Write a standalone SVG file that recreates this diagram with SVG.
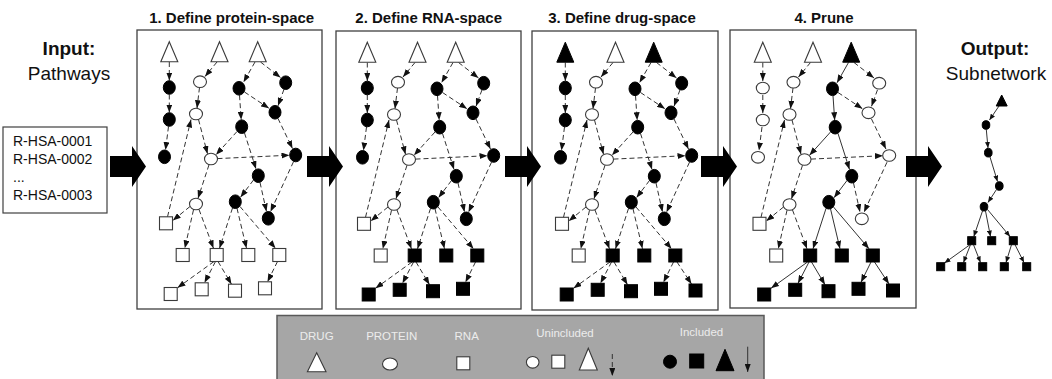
<svg xmlns="http://www.w3.org/2000/svg" width="1052" height="379" viewBox="0 0 1052 379">
<style>
.ttl{font-family:"Liberation Sans",Arial,sans-serif;font-weight:bold;font-size:15px;fill:#111;text-anchor:middle}
.big{font-family:"Liberation Sans",Arial,sans-serif;font-size:19px;fill:#111;text-anchor:middle}
.bigb{font-weight:bold}
.lst{font-family:"Liberation Sans",Arial,sans-serif;font-size:14px;fill:#111}
.lg{font-family:"Liberation Sans",Arial,sans-serif;font-size:11.5px;fill:#ececec;text-anchor:middle}
.box{fill:#fff;stroke:#404040;stroke-width:1.3}
.o{fill:#fff;stroke:#3a3a3a;stroke-width:1.1}
.f{fill:#000;stroke:#000;stroke-width:1}
.d{fill:none;stroke:#333;stroke-width:1;stroke-dasharray:5 3;marker-end:url(#ah)}
.s{fill:none;stroke:#333;stroke-width:1;marker-end:url(#ah)}
.sm{fill:none;stroke:#333;stroke-width:1;marker-end:url(#ahs)}
.arr{fill:#000}
</style>
<defs>
<marker id="ah" viewBox="0 0 8 6" refX="8" refY="3" markerWidth="8" markerHeight="6" markerUnits="userSpaceOnUse" orient="auto"><path d="M0,0 L8,3 L0,6 Z" fill="#111"/></marker>
<marker id="ahs" viewBox="0 0 6 5" refX="6" refY="2.5" markerWidth="6" markerHeight="5" markerUnits="userSpaceOnUse" orient="auto"><path d="M0,0 L6,2.5 L0,5 Z" fill="#111"/></marker>
<path id="to" class="o" d="M0,-10.3 L8.5,9.7 L-8.5,9.7 Z"/>
<path id="tf" class="f" d="M0,-10.3 L8.5,9.7 L-8.5,9.7 Z"/>
<ellipse id="eo" class="o" rx="6.5" ry="5.8"/>
<ellipse id="ef" class="f" rx="6" ry="6.8"/>
<rect id="so" class="o" x="-6.5" y="-6.5" width="13" height="13"/>
<rect id="sf" class="f" x="-6.5" y="-6.5" width="13" height="13"/>
<path id="bigarrow" class="arr" d="M0,156 H22 V146 L36,166.5 L22,187 V177 H0 Z"/>
</defs>

<!-- titles -->
<text class="big bigb" x="69" y="55">Input:</text>
<text class="big" x="69" y="80">Pathways</text>
<text class="big bigb" x="995" y="55">Output:</text>
<text class="big" x="996" y="80">Subnetwork</text>
<text class="ttl" x="231.7" y="23">1. Define protein-space</text>
<text class="ttl" x="428.7" y="23">2. Define RNA-space</text>
<text class="ttl" x="622" y="23">3. Define drug-space</text>
<text class="ttl" x="824" y="23">4. Prune</text>

<!-- input box -->
<g id="input">
<rect x="3" y="127" width="104" height="86" fill="#fff" stroke="#404040" stroke-width="1.2"/>
<text class="lst" x="13" y="146">R-HSA-0001</text>
<text class="lst" x="13" y="164">R-HSA-0002</text>
<text class="lst" x="13" y="182">...</text>
<text class="lst" x="13" y="200">R-HSA-0003</text>
</g>

<!-- panel frames -->
<g id="panel1"><rect class="box" x="137" y="30" width="185" height="279"/></g>
<g id="panel2"><rect class="box" x="336" y="31" width="185" height="278"/></g>
<g id="panel3"><rect class="box" x="532" y="31" width="186" height="279"/></g>
<g id="panel4"><rect class="box" x="730" y="30" width="186" height="278"/></g>

<!-- connectors -->
<g id="connectors">
<g id="c-p1">
<path class="d" d="M169.3,62 L169.3,80.5"/>
<path class="d" d="M169.3,94.5 L169.3,112.5"/>
<path class="d" d="M168.5,126.5 L165.5,150"/>
<path class="d" d="M217,62 L205,76.5"/>
<path class="d" d="M199.5,87.5 L197,108.2"/>
<path class="d" d="M198.5,119.5 L207.5,153.8"/>
<path class="d" d="M209,164.8 L198,198.3"/>
<path class="d" d="M190,206.5 L172.8,220.5"/>
<path class="d" d="M167.5,216.8 L191,119.5"/>
<path class="d" d="M193.5,209.8 L184.8,248.3"/>
<path class="d" d="M199,209.5 L213.5,248.3"/>
<path class="d" d="M232.5,208 L219.5,248.3"/>
<path class="d" d="M237,208.3 L246.5,248.3"/>
<path class="d" d="M240,206.5 L275.5,248.3"/>
<path class="d" d="M214,261.5 L177.5,287.8"/>
<path class="d" d="M215.5,261.5 L204.5,282.8"/>
<path class="d" d="M218,261.5 L231.5,284.2"/>
<path class="d" d="M277.5,261.5 L267.5,281.8"/>
<path class="d" d="M255,62 L243.5,82.3"/>
<path class="d" d="M260.5,62 L280.5,77.5"/>
<path class="d" d="M244.5,92 L269,108.3"/>
<path class="d" d="M284,89.3 L278,105.8"/>
<path class="d" d="M239.5,95.2 L241.2,119.8"/>
<path class="d" d="M237,131.5 L216,154.8"/>
<path class="d" d="M244.5,133 L256,168.9"/>
<path class="d" d="M278,118.5 L292.5,148.6"/>
<path class="d" d="M217.5,158.6 L289.5,155.2"/>
<path class="d" d="M293.5,161.7 L270.5,211.7"/>
<path class="d" d="M253.5,180 L240.5,197.2"/>
<path class="d" d="M260,182.5 L266.5,211.5"/>
</g>
<g id="c-p2" transform="translate(198,0.5)">
<path class="d" d="M169.3,62 L169.3,80.5"/>
<path class="d" d="M169.3,94.5 L169.3,112.5"/>
<path class="d" d="M168.5,126.5 L165.5,150"/>
<path class="d" d="M217,62 L205,76.5"/>
<path class="d" d="M199.5,87.5 L197,108.2"/>
<path class="d" d="M198.5,119.5 L207.5,153.8"/>
<path class="d" d="M209,164.8 L198,198.3"/>
<path class="d" d="M190,206.5 L172.8,220.5"/>
<path class="d" d="M167.5,216.8 L191,119.5"/>
<path class="d" d="M193.5,209.8 L184.8,248.3"/>
<path class="d" d="M199,209.5 L213.5,248.3"/>
<path class="d" d="M232.5,208 L219.5,248.3"/>
<path class="d" d="M237,208.3 L246.5,248.3"/>
<path class="d" d="M240,206.5 L275.5,248.3"/>
<path class="d" d="M214,261.5 L177.5,287.8"/>
<path class="d" d="M215.5,261.5 L204.5,282.8"/>
<path class="d" d="M218,261.5 L231.5,284.2"/>
<path class="d" d="M277.5,261.5 L267.5,281.8"/>
<path class="d" d="M255,62 L243.5,82.3"/>
<path class="d" d="M260.5,62 L280.5,77.5"/>
<path class="d" d="M244.5,92 L269,108.3"/>
<path class="d" d="M284,89.3 L278,105.8"/>
<path class="d" d="M239.5,95.2 L241.2,119.8"/>
<path class="d" d="M237,131.5 L216,154.8"/>
<path class="d" d="M244.5,133 L256,168.9"/>
<path class="d" d="M278,118.5 L292.5,148.6"/>
<path class="d" d="M217.5,158.6 L289.5,155.2"/>
<path class="d" d="M293.5,161.7 L270.5,211.7"/>
<path class="d" d="M253.5,180 L240.5,197.2"/>
<path class="d" d="M260,182.5 L266.5,211.5"/>
</g>
<g id="c-p3" transform="translate(396,0.5)">
<path class="d" d="M169.3,62 L169.3,80.5"/>
<path class="d" d="M169.3,94.5 L169.3,112.5"/>
<path class="d" d="M168.5,126.5 L165.5,150"/>
<path class="d" d="M217,62 L205,76.5"/>
<path class="d" d="M199.5,87.5 L197,108.2"/>
<path class="d" d="M198.5,119.5 L207.5,153.8"/>
<path class="d" d="M209,164.8 L198,198.3"/>
<path class="d" d="M190,206.5 L172.8,220.5"/>
<path class="d" d="M167.5,216.8 L191,119.5"/>
<path class="d" d="M193.5,209.8 L184.8,248.3"/>
<path class="d" d="M199,209.5 L213.5,248.3"/>
<path class="d" d="M232.5,208 L219.5,248.3"/>
<path class="d" d="M237,208.3 L246.5,248.3"/>
<path class="d" d="M240,206.5 L275.5,248.3"/>
<path class="d" d="M214,261.5 L177.5,287.8"/>
<path class="d" d="M215.5,261.5 L204.5,282.8"/>
<path class="d" d="M218,261.5 L231.5,284.2"/>
<path class="d" d="M277.5,261.5 L267.5,281.8"/>
<path class="d" d="M281,261.5 L295.5,283.5"/>
<path class="d" d="M255,62 L243.5,82.3"/>
<path class="d" d="M260.5,62 L280.5,77.5"/>
<path class="d" d="M244.5,92 L269,108.3"/>
<path class="d" d="M284,89.3 L278,105.8"/>
<path class="d" d="M239.5,95.2 L241.2,119.8"/>
<path class="d" d="M237,131.5 L216,154.8"/>
<path class="d" d="M244.5,133 L256,168.9"/>
<path class="d" d="M278,118.5 L292.5,148.6"/>
<path class="d" d="M217.5,158.6 L289.5,155.2"/>
<path class="d" d="M293.5,161.7 L270.5,211.7"/>
<path class="d" d="M253.5,180 L240.5,197.2"/>
<path class="d" d="M260,182.5 L266.5,211.5"/>
</g>
<g id="c-p4" transform="translate(593.5,0.5)">
<path class="d" d="M169.3,62 L169.3,80.5"/>
<path class="d" d="M169.3,94.5 L169.3,112.5"/>
<path class="d" d="M168.5,126.5 L165.5,150"/>
<path class="d" d="M217,62 L205,76.5"/>
<path class="d" d="M199.5,87.5 L197,108.2"/>
<path class="d" d="M198.5,119.5 L207.5,153.8"/>
<path class="d" d="M209,164.8 L198,198.3"/>
<path class="d" d="M190,206.5 L172.8,220.5"/>
<path class="d" d="M167.5,216.8 L191,119.5"/>
<path class="d" d="M193.5,209.8 L184.8,248.3"/>
<path class="d" d="M199,209.5 L213.5,248.3"/>
<path class="s" d="M232.5,208 L219.5,248.3"/>
<path class="s" d="M237,208.3 L246.5,248.3"/>
<path class="s" d="M240,206.5 L275.5,248.3"/>
<path class="s" d="M214,261.5 L177.5,287.8"/>
<path class="s" d="M215.5,261.5 L204.5,282.8"/>
<path class="s" d="M218,261.5 L231.5,284.2"/>
<path class="s" d="M277.5,261.5 L267.5,281.8"/>
<path class="s" d="M281,261.5 L295.5,283.5"/>
<path class="s" d="M255,62 L243.5,82.3"/>
<path class="d" d="M260.5,62 L280.5,77.5"/>
<path class="d" d="M244.5,92 L269,108.3"/>
<path class="d" d="M284,89.3 L278,105.8"/>
<path class="s" d="M239.5,95.2 L241.2,119.8"/>
<path class="s" d="M237,131.5 L216,154.8"/>
<path class="s" d="M244.5,133 L256,168.9"/>
<path class="d" d="M278,118.5 L292.5,148.6"/>
<path class="d" d="M217.5,158.6 L289.5,155.2"/>
<path class="d" d="M293.5,161.7 L270.5,211.7"/>
<path class="s" d="M253.5,180 L240.5,197.2"/>
<path class="d" d="M260,182.5 L266.5,211.5"/>
</g>
<g id="c-out">
<path class="sm" d="M999,106 L989.5,120"/>
<path class="sm" d="M986.3,129.5 L988,148"/>
<path class="sm" d="M990,157 L997.5,181.5"/>
<path class="sm" d="M996.5,189.5 L988,202.5"/>
<path class="sm" d="M982.5,211 L973.8,236.5"/>
<path class="sm" d="M985.5,211 L990.5,236.5"/>
<path class="sm" d="M987.5,209.5 L1010,236.5"/>
<path class="sm" d="M970,244.7 L944.5,263"/>
<path class="sm" d="M970.5,244.7 L963.5,262.5"/>
<path class="sm" d="M973.5,244.7 L980.5,262.5"/>
<path class="sm" d="M1011.5,244.7 L1006,262.5"/>
<path class="sm" d="M1015,244.7 L1024,262.5"/>
</g>
</g>

<!-- panel 1 nodes -->
<g id="p1-nodes">
<g id="p1-t1"><use href="#to" x="169.3" y="52"/></g>
<g id="p1-t2"><use href="#to" x="219.5" y="52"/></g>
<g id="p1-t3"><use href="#to" x="257.7" y="52"/></g>
<g id="p1-a1"><use href="#ef" x="169.3" y="87.5"/></g>
<g id="p1-a2"><use href="#ef" x="169.3" y="119.5"/></g>
<g id="p1-a3"><use href="#ef" x="164.5" y="156.8"/></g>
<g id="p1-b1"><use href="#eo" x="200" y="81.7"/></g>
<g id="p1-b2"><use href="#eo" x="196" y="114"/></g>
<g id="p1-b3"><use href="#eo" x="211" y="159"/></g>
<g id="p1-b4"><use href="#eo" x="196" y="204"/></g>
<g id="p1-c1"><use href="#ef" x="239" y="88.3"/></g>
<g id="p1-c2"><use href="#ef" x="285.7" y="82.7"/></g>
<g id="p1-c3"><use href="#ef" x="275" y="112.3"/></g>
<g id="p1-c4"><use href="#ef" x="241.7" y="126.7"/></g>
<g id="p1-c5"><use href="#ef" x="295.7" y="155"/></g>
<g id="p1-c6"><use href="#ef" x="258.3" y="175.7"/></g>
<g id="p1-c7"><use href="#ef" x="235.3" y="201.7"/></g>
<g id="p1-c8"><use href="#ef" x="268.3" y="218.3"/></g>
<g id="p1-s1"><use href="#so" x="166" y="223.3"/></g>
<g id="p1-s2"><use href="#so" x="182.7" y="255"/></g>
<g id="p1-s3"><use href="#so" x="216.7" y="255"/></g>
<g id="p1-s4"><use href="#so" x="248.3" y="255"/></g>
<g id="p1-s5"><use href="#so" x="279.3" y="255"/></g>
<g id="p1-s6"><use href="#so" x="170.7" y="294"/></g>
<g id="p1-s7"><use href="#so" x="201.7" y="289.3"/></g>
<g id="p1-s8"><use href="#so" x="235" y="290.7"/></g>
<g id="p1-s9"><use href="#so" x="265" y="288.3"/></g>
</g>

<!-- panel 2 nodes -->
<g id="p2-nodes" transform="translate(198,0.5)">
<g id="p2-t1"><use href="#to" x="169.3" y="52"/></g>
<g id="p2-t2"><use href="#to" x="219.5" y="52"/></g>
<g id="p2-t3"><use href="#to" x="257.7" y="52"/></g>
<g id="p2-a1"><use href="#ef" x="169.3" y="87.5"/></g>
<g id="p2-a2"><use href="#ef" x="169.3" y="119.5"/></g>
<g id="p2-a3"><use href="#ef" x="164.5" y="156.8"/></g>
<g id="p2-b1"><use href="#eo" x="200" y="81.7"/></g>
<g id="p2-b2"><use href="#eo" x="196" y="114"/></g>
<g id="p2-b3"><use href="#eo" x="211" y="159"/></g>
<g id="p2-b4"><use href="#eo" x="196" y="204"/></g>
<g id="p2-c1"><use href="#ef" x="239" y="88.3"/></g>
<g id="p2-c2"><use href="#ef" x="285.7" y="82.7"/></g>
<g id="p2-c3"><use href="#ef" x="275" y="112.3"/></g>
<g id="p2-c4"><use href="#ef" x="241.7" y="126.7"/></g>
<g id="p2-c5"><use href="#ef" x="295.7" y="155"/></g>
<g id="p2-c6"><use href="#ef" x="258.3" y="175.7"/></g>
<g id="p2-c7"><use href="#ef" x="235.3" y="201.7"/></g>
<g id="p2-c8"><use href="#ef" x="268.3" y="218.3"/></g>
<g id="p2-s1"><use href="#so" x="166" y="223.3"/></g>
<g id="p2-s2"><use href="#so" x="182.7" y="255"/></g>
<g id="p2-s3"><use href="#sf" x="216.7" y="255"/></g>
<g id="p2-s4"><use href="#sf" x="248.3" y="255"/></g>
<g id="p2-s5"><use href="#sf" x="279.3" y="255"/></g>
<g id="p2-s6"><use href="#sf" x="170.7" y="294"/></g>
<g id="p2-s7"><use href="#sf" x="201.7" y="289.3"/></g>
<g id="p2-s8"><use href="#sf" x="235" y="290.7"/></g>
<g id="p2-s9"><use href="#sf" x="265" y="288.3"/></g>
</g>

<!-- panel 3 nodes -->
<g id="p3-nodes" transform="translate(396,0.5)">
<g id="p3-t1"><use href="#tf" x="169.3" y="52"/></g>
<g id="p3-t2"><use href="#to" x="219.5" y="52"/></g>
<g id="p3-t3"><use href="#tf" x="257.7" y="52"/></g>
<g id="p3-a1"><use href="#ef" x="169.3" y="87.5"/></g>
<g id="p3-a2"><use href="#ef" x="169.3" y="119.5"/></g>
<g id="p3-a3"><use href="#ef" x="164.5" y="156.8"/></g>
<g id="p3-b1"><use href="#eo" x="200" y="81.7"/></g>
<g id="p3-b2"><use href="#eo" x="196" y="114"/></g>
<g id="p3-b3"><use href="#eo" x="211" y="159"/></g>
<g id="p3-b4"><use href="#eo" x="196" y="204"/></g>
<g id="p3-c1"><use href="#ef" x="239" y="88.3"/></g>
<g id="p3-c2"><use href="#ef" x="285.7" y="82.7"/></g>
<g id="p3-c3"><use href="#ef" x="275" y="112.3"/></g>
<g id="p3-c4"><use href="#ef" x="241.7" y="126.7"/></g>
<g id="p3-c5"><use href="#ef" x="295.7" y="155"/></g>
<g id="p3-c6"><use href="#ef" x="258.3" y="175.7"/></g>
<g id="p3-c7"><use href="#ef" x="235.3" y="201.7"/></g>
<g id="p3-c8"><use href="#ef" x="268.3" y="218.3"/></g>
<g id="p3-s1"><use href="#so" x="166" y="223.3"/></g>
<g id="p3-s2"><use href="#so" x="182.7" y="255"/></g>
<g id="p3-s3"><use href="#sf" x="216.7" y="255"/></g>
<g id="p3-s4"><use href="#sf" x="248.3" y="255"/></g>
<g id="p3-s5"><use href="#sf" x="279.3" y="255"/></g>
<g id="p3-s6"><use href="#sf" x="170.7" y="294"/></g>
<g id="p3-s7"><use href="#sf" x="201.7" y="289.3"/></g>
<g id="p3-s8"><use href="#sf" x="235" y="290.7"/></g>
<g id="p3-s9"><use href="#sf" x="265" y="288.3"/></g>
<g id="p3-s10"><use href="#sf" x="299.5" y="290"/></g>
</g>

<!-- panel 4 nodes -->
<g id="p4-nodes" transform="translate(593.5,0.5)">
<g id="p4-t1"><use href="#to" x="169.3" y="52"/></g>
<g id="p4-t2"><use href="#to" x="219.5" y="52"/></g>
<g id="p4-t3"><use href="#tf" x="257.7" y="52"/></g>
<g id="p4-a1"><use href="#eo" x="169.3" y="87.5"/></g>
<g id="p4-a2"><use href="#eo" x="169.3" y="119.5"/></g>
<g id="p4-a3"><use href="#eo" x="164.5" y="156.8"/></g>
<g id="p4-b1"><use href="#eo" x="200" y="81.7"/></g>
<g id="p4-b2"><use href="#eo" x="196" y="114"/></g>
<g id="p4-b3"><use href="#eo" x="211" y="159"/></g>
<g id="p4-b4"><use href="#eo" x="196" y="204"/></g>
<g id="p4-c1"><use href="#ef" x="239" y="88.3"/></g>
<g id="p4-c2"><use href="#eo" x="285.7" y="82.7"/></g>
<g id="p4-c3"><use href="#eo" x="275" y="112.3"/></g>
<g id="p4-c4"><use href="#ef" x="241.7" y="126.7"/></g>
<g id="p4-c5"><use href="#eo" x="295.7" y="155"/></g>
<g id="p4-c6"><use href="#ef" x="258.3" y="175.7"/></g>
<g id="p4-c7"><use href="#ef" x="235.3" y="201.7"/></g>
<g id="p4-c8"><use href="#eo" x="268.3" y="218.3"/></g>
<g id="p4-s1"><use href="#so" x="166" y="223.3"/></g>
<g id="p4-s2"><use href="#so" x="182.7" y="255"/></g>
<g id="p4-s3"><use href="#sf" x="216.7" y="255"/></g>
<g id="p4-s4"><use href="#sf" x="248.3" y="255"/></g>
<g id="p4-s5"><use href="#sf" x="279.3" y="255"/></g>
<g id="p4-s6"><use href="#sf" x="170.7" y="294"/></g>
<g id="p4-s7"><use href="#sf" x="201.7" y="289.3"/></g>
<g id="p4-s8"><use href="#sf" x="235" y="290.7"/></g>
<g id="p4-s9"><use href="#sf" x="265" y="288.3"/></g>
<g id="p4-s10"><use href="#sf" x="299.5" y="290"/></g>
</g>

<!-- output subnetwork -->
<g id="out-nodes">
<g id="o-t"><path class="f" d="M1001.7,95 L1007.2,106 L996.2,106 Z"/></g>
<g id="o-e1"><ellipse class="f" cx="986" cy="125" rx="3.8" ry="4.3"/></g>
<g id="o-e2"><ellipse class="f" cx="988.3" cy="152.7" rx="3.8" ry="4.3"/></g>
<g id="o-e3"><ellipse class="f" cx="999.3" cy="186" rx="3.8" ry="4.3"/></g>
<g id="o-e4"><ellipse class="f" cx="984" cy="206.7" rx="3.8" ry="4.3"/></g>
<g id="o-q1"><rect class="f" x="967.7" y="236.7" width="8" height="8"/></g>
<g id="o-q2"><rect class="f" x="987.7" y="236.7" width="8" height="8"/></g>
<g id="o-q3"><rect class="f" x="1009.3" y="236.7" width="8" height="8"/></g>
<g id="o-r1"><rect class="f" x="936.7" y="262.7" width="8" height="8"/></g>
<g id="o-r2"><rect class="f" x="957.7" y="262.7" width="8" height="8"/></g>
<g id="o-r3"><rect class="f" x="978.7" y="262.7" width="8" height="8"/></g>
<g id="o-r4"><rect class="f" x="1000.3" y="262.7" width="8" height="8"/></g>
<g id="o-r5"><rect class="f" x="1022.7" y="262.7" width="8" height="8"/></g>
</g>

<!-- big arrows -->
<g id="big-arrows">
<use href="#bigarrow" x="110"/>
<use href="#bigarrow" x="307"/>
<use href="#bigarrow" x="505"/>
<use href="#bigarrow" x="701"/>
<use href="#bigarrow" x="906"/>
</g>

<!-- legend -->
<g id="legend">
<rect x="277" y="315.5" width="487" height="70" fill="#a6a6a6" stroke="#595959" stroke-width="1.5"/>
<text class="lg" x="316.7" y="340">DRUG</text>
<text class="lg" x="391.7" y="340">PROTEIN</text>
<text class="lg" x="466.7" y="340">RNA</text>
<text class="lg" x="565" y="337">Unincluded</text>
<text class="lg" x="701.5" y="336">Included</text>
<path class="o" d="M316.7,352.7 L326,371.7 L307.4,371.7 Z"/>
<ellipse class="o" cx="390" cy="364" rx="7.5" ry="6"/>
<rect class="o" x="456.8" y="356.8" width="13" height="13"/>
<ellipse class="o" cx="532.7" cy="362.3" rx="6.3" ry="5.8"/>
<rect class="o" x="551.8" y="355.2" width="13" height="13"/>
<path class="o" d="M588.3,348.3 L597.3,370 L579.3,370 Z"/>
<path class="d" d="M612.3,354 L612.3,376"/>
<circle class="f" cx="670" cy="361.7" r="6.5"/>
<rect class="f" x="689.7" y="354" width="14" height="14"/>
<path class="f" d="M725,349.3 L734,370.7 L716,370.7 Z"/>
<path class="s" d="M747.7,346.7 L747.7,372"/>
</g>
</svg>
